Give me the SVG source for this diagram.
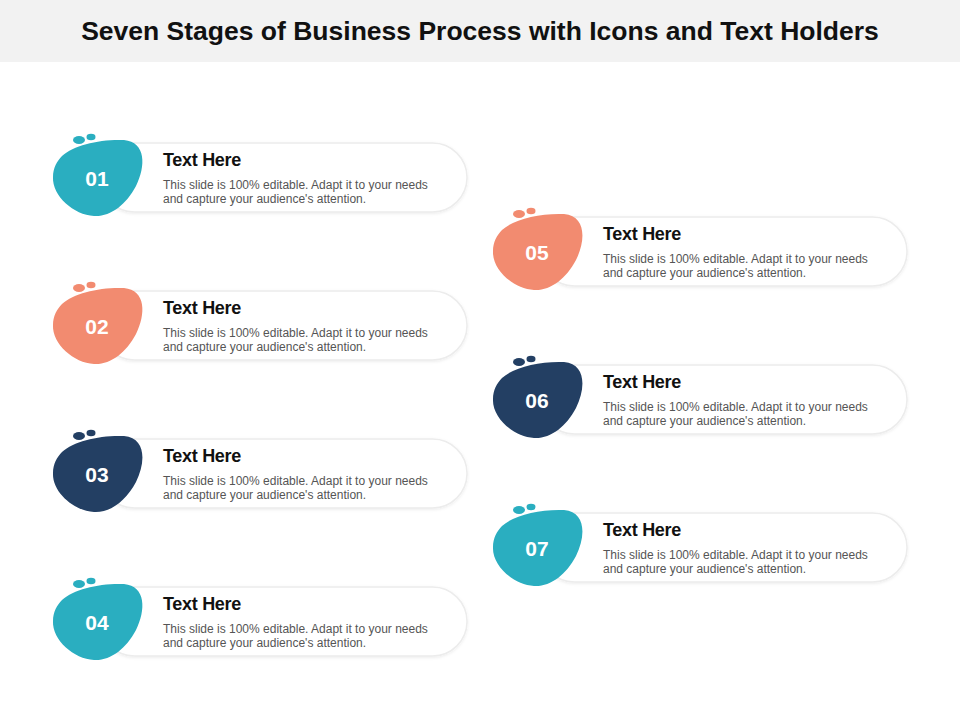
<svg xmlns="http://www.w3.org/2000/svg" width="960" height="720" viewBox="0 0 960 720">
<defs>
<style>
.t{font-family:"Liberation Sans",Arial,sans-serif}
.h{font-size:18px;font-weight:bold;fill:#111;letter-spacing:-0.3px}
.b{font-size:12px;fill:#555}
.n{font-size:21px;font-weight:bold;fill:#fff;text-anchor:middle}
.pill{fill:#fff;stroke:#ececec;stroke-width:1.5}
.teal{fill:#2AAEC0}.sal{fill:#F28B70}.navy{fill:#233F63}
</style>
<filter id="sh" x="-5%" y="-20%" width="110%" height="150%"><feDropShadow dx="0" dy="1" stdDeviation="1.5" flood-color="#000" flood-opacity="0.08"/></filter>
<g id="card">
<rect class="pill" x="100" y="143" width="367" height="69" rx="34.5" filter="url(#sh)"/>
</g>
<path id="blob" d="M62,156 C74,145 100,139 124,140 C146,142 146,166 136,186 C126,205 110,217 94,216 C74,215 52,196 53,177 C53,168 57,161 62,156 Z"/>
<g id="dots"><ellipse cx="79" cy="140" rx="6" ry="4"/><ellipse cx="91" cy="137" rx="4.5" ry="3.2"/></g>
</defs>
<rect x="0" y="0" width="960" height="62" fill="#F2F2F2"/>
<text class="t" x="480" y="40" text-anchor="middle" font-size="26.5" font-weight="bold" fill="#111">Seven Stages of Business Process with Icons and Text Holders</text>
<g id="connectors"></g>
<g id="n01" class="teal"><use href="#card"/><use href="#blob"/><use href="#dots"/><text class="t n" x="97" y="186">01</text><text class="t h" x="163" y="166">Text Here</text><text class="t b" x="163" y="189">This slide is 100% editable. Adapt it to your needs</text><text class="t b" x="163" y="203">and capture your audience's attention.</text></g>
<g id="n02" class="sal" transform="translate(0,148)"><use href="#card"/><use href="#blob"/><use href="#dots"/><text class="t n" x="97" y="186">02</text><text class="t h" x="163" y="166">Text Here</text><text class="t b" x="163" y="189">This slide is 100% editable. Adapt it to your needs</text><text class="t b" x="163" y="203">and capture your audience's attention.</text></g>
<g id="n03" class="navy" transform="translate(0,296)"><use href="#card"/><use href="#blob"/><use href="#dots"/><text class="t n" x="97" y="186">03</text><text class="t h" x="163" y="166">Text Here</text><text class="t b" x="163" y="189">This slide is 100% editable. Adapt it to your needs</text><text class="t b" x="163" y="203">and capture your audience's attention.</text></g>
<g id="n04" class="teal" transform="translate(0,444)"><use href="#card"/><use href="#blob"/><use href="#dots"/><text class="t n" x="97" y="186">04</text><text class="t h" x="163" y="166">Text Here</text><text class="t b" x="163" y="189">This slide is 100% editable. Adapt it to your needs</text><text class="t b" x="163" y="203">and capture your audience's attention.</text></g>
<g id="n05" class="sal" transform="translate(440,74)"><use href="#card"/><use href="#blob"/><use href="#dots"/><text class="t n" x="97" y="186">05</text><text class="t h" x="163" y="166">Text Here</text><text class="t b" x="163" y="189">This slide is 100% editable. Adapt it to your needs</text><text class="t b" x="163" y="203">and capture your audience's attention.</text></g>
<g id="n06" class="navy" transform="translate(440,222)"><use href="#card"/><use href="#blob"/><use href="#dots"/><text class="t n" x="97" y="186">06</text><text class="t h" x="163" y="166">Text Here</text><text class="t b" x="163" y="189">This slide is 100% editable. Adapt it to your needs</text><text class="t b" x="163" y="203">and capture your audience's attention.</text></g>
<g id="n07" class="teal" transform="translate(440,370)"><use href="#card"/><use href="#blob"/><use href="#dots"/><text class="t n" x="97" y="186">07</text><text class="t h" x="163" y="166">Text Here</text><text class="t b" x="163" y="189">This slide is 100% editable. Adapt it to your needs</text><text class="t b" x="163" y="203">and capture your audience's attention.</text></g>
</svg>
